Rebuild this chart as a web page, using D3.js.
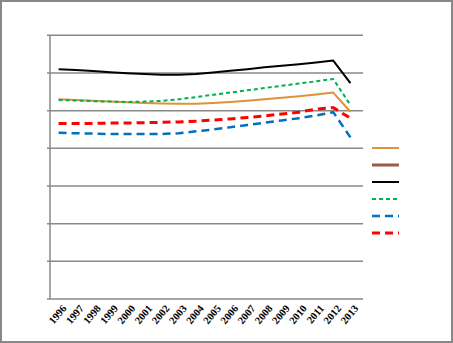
<!DOCTYPE html>
<html><head><meta charset="utf-8">
<script src="https://cdn.jsdelivr.net/npm/d3@7/dist/d3.min.js"></script>
<style>body{margin:0;background:#fff}svg{display:block}</style>
</head><body>
<script>
const years = ["1996","1997","1998","1999","2000","2001","2002","2003","2004","2005","2006","2007","2008","2009","2010","2011","2012","2013"];
const orangeVals = [5.30,5.28,5.26,5.24,5.22,5.20,5.19,5.18,5.18,5.20,5.23,5.26,5.30,5.34,5.38,5.43,5.48,4.97];
const brownVals  = [];
const blackVals  = [6.10,6.08,6.05,6.02,5.99,5.97,5.95,5.95,5.97,6.01,6.06,6.10,6.15,6.19,6.23,6.28,6.33,5.73];
const greenVals  = [5.28,5.27,5.25,5.24,5.23,5.24,5.26,5.30,5.36,5.42,5.48,5.54,5.60,5.66,5.72,5.78,5.84,5.15];
const blueVals   = [4.41,4.40,4.39,4.38,4.38,4.38,4.38,4.40,4.45,4.50,4.56,4.62,4.68,4.74,4.80,4.87,4.96,4.29];
const redVals    = [4.66,4.66,4.66,4.67,4.67,4.68,4.69,4.70,4.72,4.75,4.78,4.82,4.86,4.91,4.96,5.04,5.08,4.80];
const yTicks = [0,1,2,3,4,5,6,7];

const series = [
  {vals: orangeVals, color:"#DE9339", width:2,   dash:null},
  {vals: brownVals,  color:"#9C5B45", width:3,   dash:null},
  {vals: blackVals,  color:"#000000", width:2,   dash:null},
  {vals: greenVals,  color:"#00B050", width:2,   dash:"4,3"},
  {vals: blueVals,   color:"#0070C0", width:2.5, dash:"8,5"},
  {vals: redVals,    color:"#FF0000", width:3,   dash:"8,5"}
];

const W=453,H=343;
const svg=d3.select("body").append("svg").attr("width",W).attr("height",H);
svg.append("rect").attr("x",1).attr("y",1).attr("width",W-2).attr("height",H-2)
  .attr("fill","#fff").attr("stroke","#888").attr("stroke-width",2);

const pLeft=50,pRight=363,pTop=35.3,pBottom=299;
const x=d3.scalePoint().domain(years).range([pLeft,359]).padding(0.5);
const y=d3.scaleLinear().domain([0,7]).range([pBottom,pTop]);

svg.append("g").selectAll("line").data(yTicks).join("line")
  .attr("x1",pLeft-3).attr("x2",pRight).attr("y1",d=>y(d)).attr("y2",d=>y(d))
  .attr("stroke","#888").attr("stroke-width",1.5);
svg.append("line").attr("x1",pLeft).attr("x2",pLeft).attr("y1",pTop).attr("y2",pBottom)
  .attr("stroke","#888").attr("stroke-width",1.5);

svg.append("g").selectAll("text").data(years).join("text")
  .attr("transform",d=>`translate(${x(d)+3},${pBottom+5}) rotate(-50)`)
  .attr("text-anchor","end").attr("dominant-baseline","hanging")
  .attr("font-family","Liberation Serif, Times New Roman, serif").attr("font-size",10.5)
  .attr("font-weight","bold").attr("fill","#000").text(d=>d);

const line=d3.line().x((d,i)=>x(years[i])).y(d=>y(d));
series.forEach(s=>{
  if(!s.vals.length) return;
  svg.append("path").attr("d",line(s.vals)).attr("fill","none")
    .attr("stroke",s.color).attr("stroke-width",s.width)
    .attr("stroke-dasharray",s.dash).attr("stroke-linejoin","round");
});

const lg=svg.append("g");
series.forEach((s,i)=>{
  const ly=148+i*17;
  lg.append("line").attr("x1",372).attr("x2",399).attr("y1",ly).attr("y2",ly)
    .attr("stroke",s.color).attr("stroke-width",s.width).attr("stroke-dasharray",s.dash);
});
</script>
</body></html>
